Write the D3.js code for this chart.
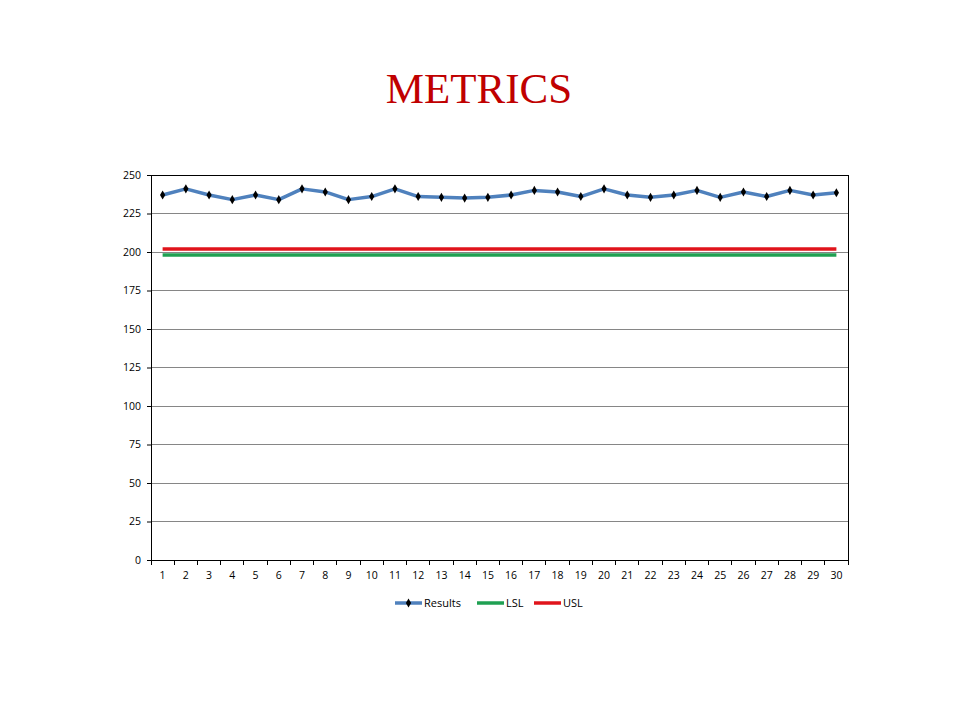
<!DOCTYPE html>
<html>
<head>
<meta charset="utf-8">
<script src="https://cdn.jsdelivr.net/npm/d3@7"></script>
<style>
  html, body { margin: 0; padding: 0; background: #fff; }
  svg { display: block; }
</style>
</head>
<body>
<svg id="chart" width="960" height="720"></svg>
<script>
const title = "METRICS";
const categories = d3.range(1, 31).map(String);
const results = [237, 241, 237, 234, 237, 234, 241, 239, 234, 236, 241, 236, 235.5, 235, 235.5, 237, 240, 239, 236, 241, 237, 235.5, 237, 240, 235.5, 239, 236, 240, 237, 238.5];
const lsl = categories.map(() => 198);
const usl = categories.map(() => 202);
const yTicks = [0, 25, 50, 75, 100, 125, 150, 175, 200, 225, 250];
const seriesNames = ["Results", "LSL", "USL"];
const seriesColors = ["#4F81BD", "#1FA052", "#E0141B"];

const svg = d3.select("#chart");
const margin = { left: 151, right: 960 - 848, top: 175, bottom: 720 - 560 };
const W = 960 - margin.left - margin.right;
const H = 720 - margin.top - margin.bottom;
const tickFont = "'Open Sans', 'Liberation Sans', sans-serif";

svg.append("text")
  .attr("x", 479).attr("y", 103)
  .attr("text-anchor", "middle")
  .attr("font-family", "'Liberation Serif', 'Times New Roman', serif")
  .attr("font-size", 43)
  .attr("fill", "#C00000")
  .text(title);

const g = svg.append("g").attr("transform", `translate(${margin.left},${margin.top})`);

const x = d3.scaleBand().domain(categories).range([0, W]).padding(0);
const y = d3.scaleLinear().domain([0, 250]).range([H, 0]);

// gridlines
g.append("g").selectAll("line").data(yTicks.filter(t => t > 0 && t < 250)).join("line")
  .attr("x1", 0).attr("x2", W)
  .attr("y1", d => y(d)).attr("y2", d => y(d))
  .attr("stroke", "#868686").attr("stroke-width", 1)
  .attr("shape-rendering", "crispEdges");

// frame
g.append("rect").attr("x", 0).attr("y", 0).attr("width", W).attr("height", H)
  .attr("fill", "none").attr("stroke", "#000").attr("stroke-width", 1)
  .attr("shape-rendering", "crispEdges");

// y axis
const yAxis = g.append("g").call(d3.axisLeft(y).tickValues(yTicks).tickSize(4).tickPadding(6));
yAxis.select(".domain").attr("stroke", "#000");
yAxis.selectAll(".tick line").attr("stroke", "#000");
yAxis.selectAll("text").attr("font-family", tickFont)
  .attr("font-size", 10.5).attr("fill", "#000");

// x axis: ticks at category boundaries
const xAxisG = g.append("g").attr("transform", `translate(0,${H})`);
xAxisG.append("line").attr("x1", 0).attr("x2", W).attr("stroke", "#000").attr("shape-rendering", "crispEdges");
xAxisG.selectAll("line.tk").data(d3.range(0, categories.length + 1)).join("line")
  .attr("class", "tk")
  .attr("x1", i => i < categories.length ? x(categories[i]) : W)
  .attr("x2", i => i < categories.length ? x(categories[i]) : W)
  .attr("y1", 0).attr("y2", 5)
  .attr("stroke", "#000").attr("shape-rendering", "crispEdges");
xAxisG.selectAll("text").data(categories).join("text")
  .attr("x", d => x(d) + x.bandwidth() / 2)
  .attr("y", 19)
  .attr("text-anchor", "middle")
  .attr("font-family", tickFont)
  .attr("font-size", 10.5).attr("fill", "#000")
  .text(d => d);

const cx = d => x(d) + x.bandwidth() / 2;
const lineGen = d3.line().x((v, i) => cx(categories[i])).y(v => y(v));

g.append("path").datum(lsl).attr("d", lineGen)
  .attr("fill", "none").attr("stroke", seriesColors[1]).attr("stroke-width", 3.5);
g.append("path").datum(usl).attr("d", lineGen)
  .attr("fill", "none").attr("stroke", seriesColors[2]).attr("stroke-width", 3.5);
g.append("path").datum(results).attr("d", lineGen)
  .attr("fill", "none").attr("stroke", seriesColors[0]).attr("stroke-width", 3.5)
  .attr("stroke-linejoin", "round");

const diamond = d3.symbol().type(d3.symbolDiamond).size(24);
g.selectAll("path.mk").data(results).join("path")
  .attr("class", "mk")
  .attr("d", diamond)
  .attr("transform", (v, i) => `translate(${cx(categories[i])},${y(v)})`)
  .attr("fill", "#000");

// legend
const legendItems = [
  { name: seriesNames[0], color: seriesColors[0], x0: 395, marker: true },
  { name: seriesNames[1], color: seriesColors[1], x0: 477, marker: false },
  { name: seriesNames[2], color: seriesColors[2], x0: 534, marker: false }
];
const ly = 603;
const lg = svg.append("g");
legendItems.forEach(it => {
  lg.append("line").attr("x1", it.x0).attr("x2", it.x0 + 27).attr("y1", ly).attr("y2", ly)
    .attr("stroke", it.color).attr("stroke-width", 3.5);
  if (it.marker) {
    lg.append("path").attr("d", diamond).attr("transform", `translate(${it.x0 + 13.5},${ly})`).attr("fill", "#000");
  }
  lg.append("text").attr("x", it.x0 + 29).attr("y", ly + 4)
    .attr("font-family", tickFont)
    .attr("font-size", 11).attr("fill", "#000")
    .text(it.name);
});
</script>
</body>
</html>
